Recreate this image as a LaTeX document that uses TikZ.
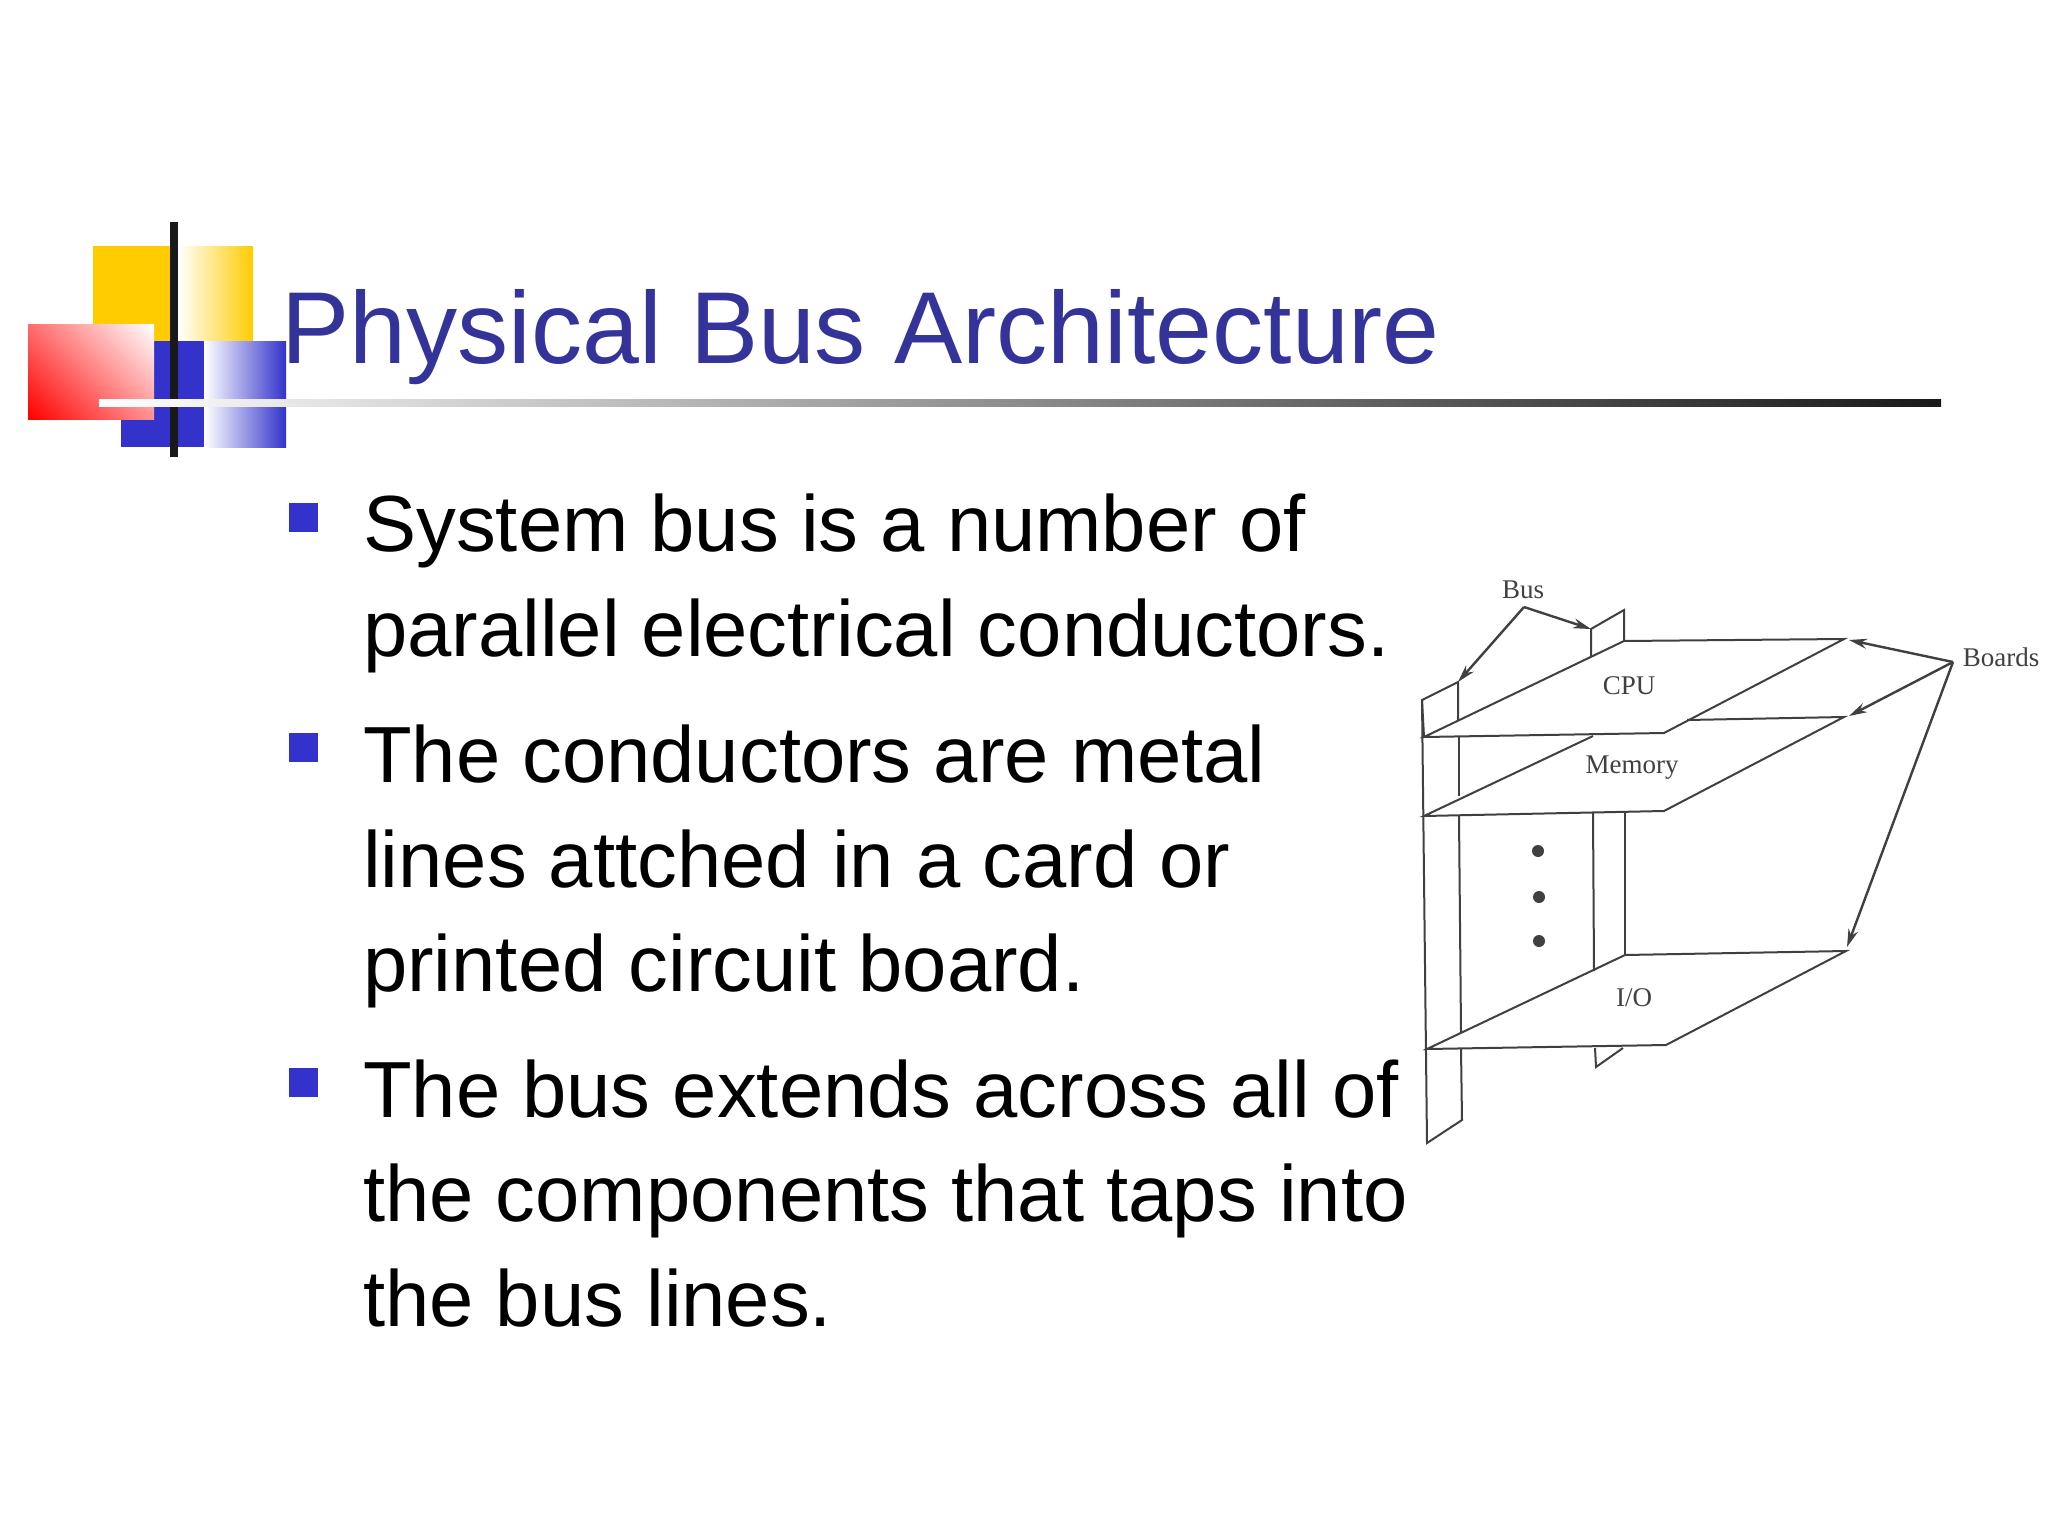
\documentclass[tikz,border=0pt]{standalone}
\usepackage{fontspec}
\setmainfont{Liberation Sans}
\newfontfamily\figfont{Liberation Serif}
\usetikzlibrary{arrows.meta,positioning}
\definecolor{slideblue}{RGB}{51,51,153}
\definecolor{bulletblue}{RGB}{51,51,204}
\definecolor{logoyellow}{RGB}{255,204,0}
\definecolor{figline}{gray}{0.25}
\pgfdeclarehorizontalshading{redfade}{100bp}{rgb(0bp)=(1,0,0); rgb(15bp)=(1,0,0); rgb(85bp)=(1,1,1); rgb(100bp)=(1,1,1)}
\tikzset{
    %Define standard arrow tip
    >={Stealth[length=18pt,width=10pt]},
    %Define style for text
    titletext/.style={
           anchor=base west,
           inner sep=0pt,
           text=slideblue,
           font=\fontsize{102.2}{102}\selectfont},
    bodytext/.style={
           anchor=base west,
           inner sep=0pt,
           text=black,
           font=\fontsize{79.6}{80}\selectfont},
    bullet/.style={
           rectangle,
           inner sep=0pt,
           minimum width=29pt,
           minimum height=29pt,
           fill=bulletblue},
    figlabel/.style={
           inner sep=0pt,
           text=figline,
           font=\figfont\fontsize{27}{27}\selectfont},
    figdot/.style={
           circle,
           inner sep=0pt,
           minimum size=12pt,
           fill=figline},
    % Define line styles of the board figure
    board/.style={
           draw=figline,
           line width=2pt,
           line join=miter},
    pil/.style={
           ->,
           draw=figline,
           line width=2.4pt}
}
\begin{document}
\begin{tikzpicture}[x=1pt,y=-1pt]
\useasboundingbox (0,0) rectangle (2048,1536);
\fill[white] (0,0) rectangle (2048,1536);

% logo
\fill[logoyellow] (93,246) rectangle (172,341);
\shade[left color=white,right color=logoyellow] (178,246) rectangle (253,341);
\fill[bulletblue] (121,341) rectangle (204,447);
\shade[left color=white,right color=bulletblue] (204,341) rectangle (286,447);
\shade[shading=redfade,shading angle=45] (28,324) rectangle (154,419);
\fill[black!90] (170,222) rectangle (178,457);
\shade[left color=white,right color=black!90] (99,399) rectangle (1941,406);

% slide text
\node[titletext] (title) at (281,363) {Physical Bus Architecture};
\node[bullet] (b1) at (303,517) {};
\node[bullet] (b2) at (303,747) {};
\node[bullet] (b3) at (303,1082) {};
\node[bodytext] (l1) at (363,551) {System bus is a number of};
\node[bodytext] (l2) at (363,656) {parallel electrical conductors.};
\node[bodytext] (l3) at (363,782) {The conductors are metal};
\node[bodytext] (l4) at (363,887) {lines attched in a card or};
\node[bodytext] (l5) at (363,991) {printed circuit board.};
\node[bodytext] (l6) at (363,1117) {The bus extends across all of};
\node[bodytext] (l7) at (363,1221) {the components that taps into};
\node[bodytext] (l8) at (363,1326) {the bus lines.};

% boards
\coordinate (cpufl) at (1424,737);
\coordinate (cpubl) at (1624,641);
\coordinate (cpubr) at (1844,639);
\coordinate (cpufr) at (1664,733);
\coordinate (memfl) at (1424,816);
\coordinate (memin) at (1593,736);
\coordinate (membk) at (1687,720);
\coordinate (membr) at (1844,717);
\coordinate (memfr) at (1664,811);
\coordinate (iofl) at (1427,1049);
\coordinate (iobl) at (1625,955);
\coordinate (iobr) at (1846,951);
\coordinate (iofr) at (1666,1045);
\draw[board] (cpufl) -- (cpubl) -- (cpubr) -- (cpufr) -- cycle;
\draw[board] (memin) -- (memfl) -- (memfr) -- (membr) -- (membk);
\draw[board] (iofl) -- (iobl) -- (iobr) -- (iofr) -- cycle;

% bus, left strip
\coordinate (lat) at (1422,700);
\coordinate (lbt) at (1458,682);
\coordinate (lab) at (1427,1143);
\coordinate (lbb) at (1462,1120);
\draw[board] (cpufl) -- (lat) -- (lbt) -- (1458,720);
\draw[board] (lat) -- (lab) -- (lbb) -- (1461,1049);
\draw[board] (1459,737) -- (1459,796);
\draw[board] (1459,816) -- (1461,1032);

% bus, right strip
\coordinate (rat) at (1591,629);
\coordinate (rbt) at (1624,610);
\draw[board] (1591,657) -- (rat) -- (rbt) -- (cpubl);
\draw[board] (1593,813) -- (1594,971);
\draw[board] (1625,813) -- (iobl);
\draw[board] (1595,1048) -- (1596,1067) -- (1623,1048);

% dots
\node[figdot] (d1) at (1538,851) {};
\node[figdot] (d2) at (1539,897) {};
\node[figdot] (d3) at (1539,941) {};

% labels
\node[figlabel] (cpu) at (1629,686) {CPU};
\node[figlabel] (memory) at (1632,768) {Memory};
\node[figlabel] (io) at (1634,998) {I/O};
\node[figlabel] (bus) at (1523,590) {Bus};
\node[figlabel] (boards) at (2001,657) {Boards};

% arrows
\coordinate (busroot) at (1524,607);
\coordinate (bdroot) at (1953,662);
\draw[pil] (busroot) -- (rat);
\draw[pil] (busroot) -- (lbt);
\draw[pil] (bdroot) -- (1849,640);
\draw[pil] (bdroot) -- (1849,716);
\draw[pil] (bdroot) -- (1847,947);
\end{tikzpicture}
\end{document}
